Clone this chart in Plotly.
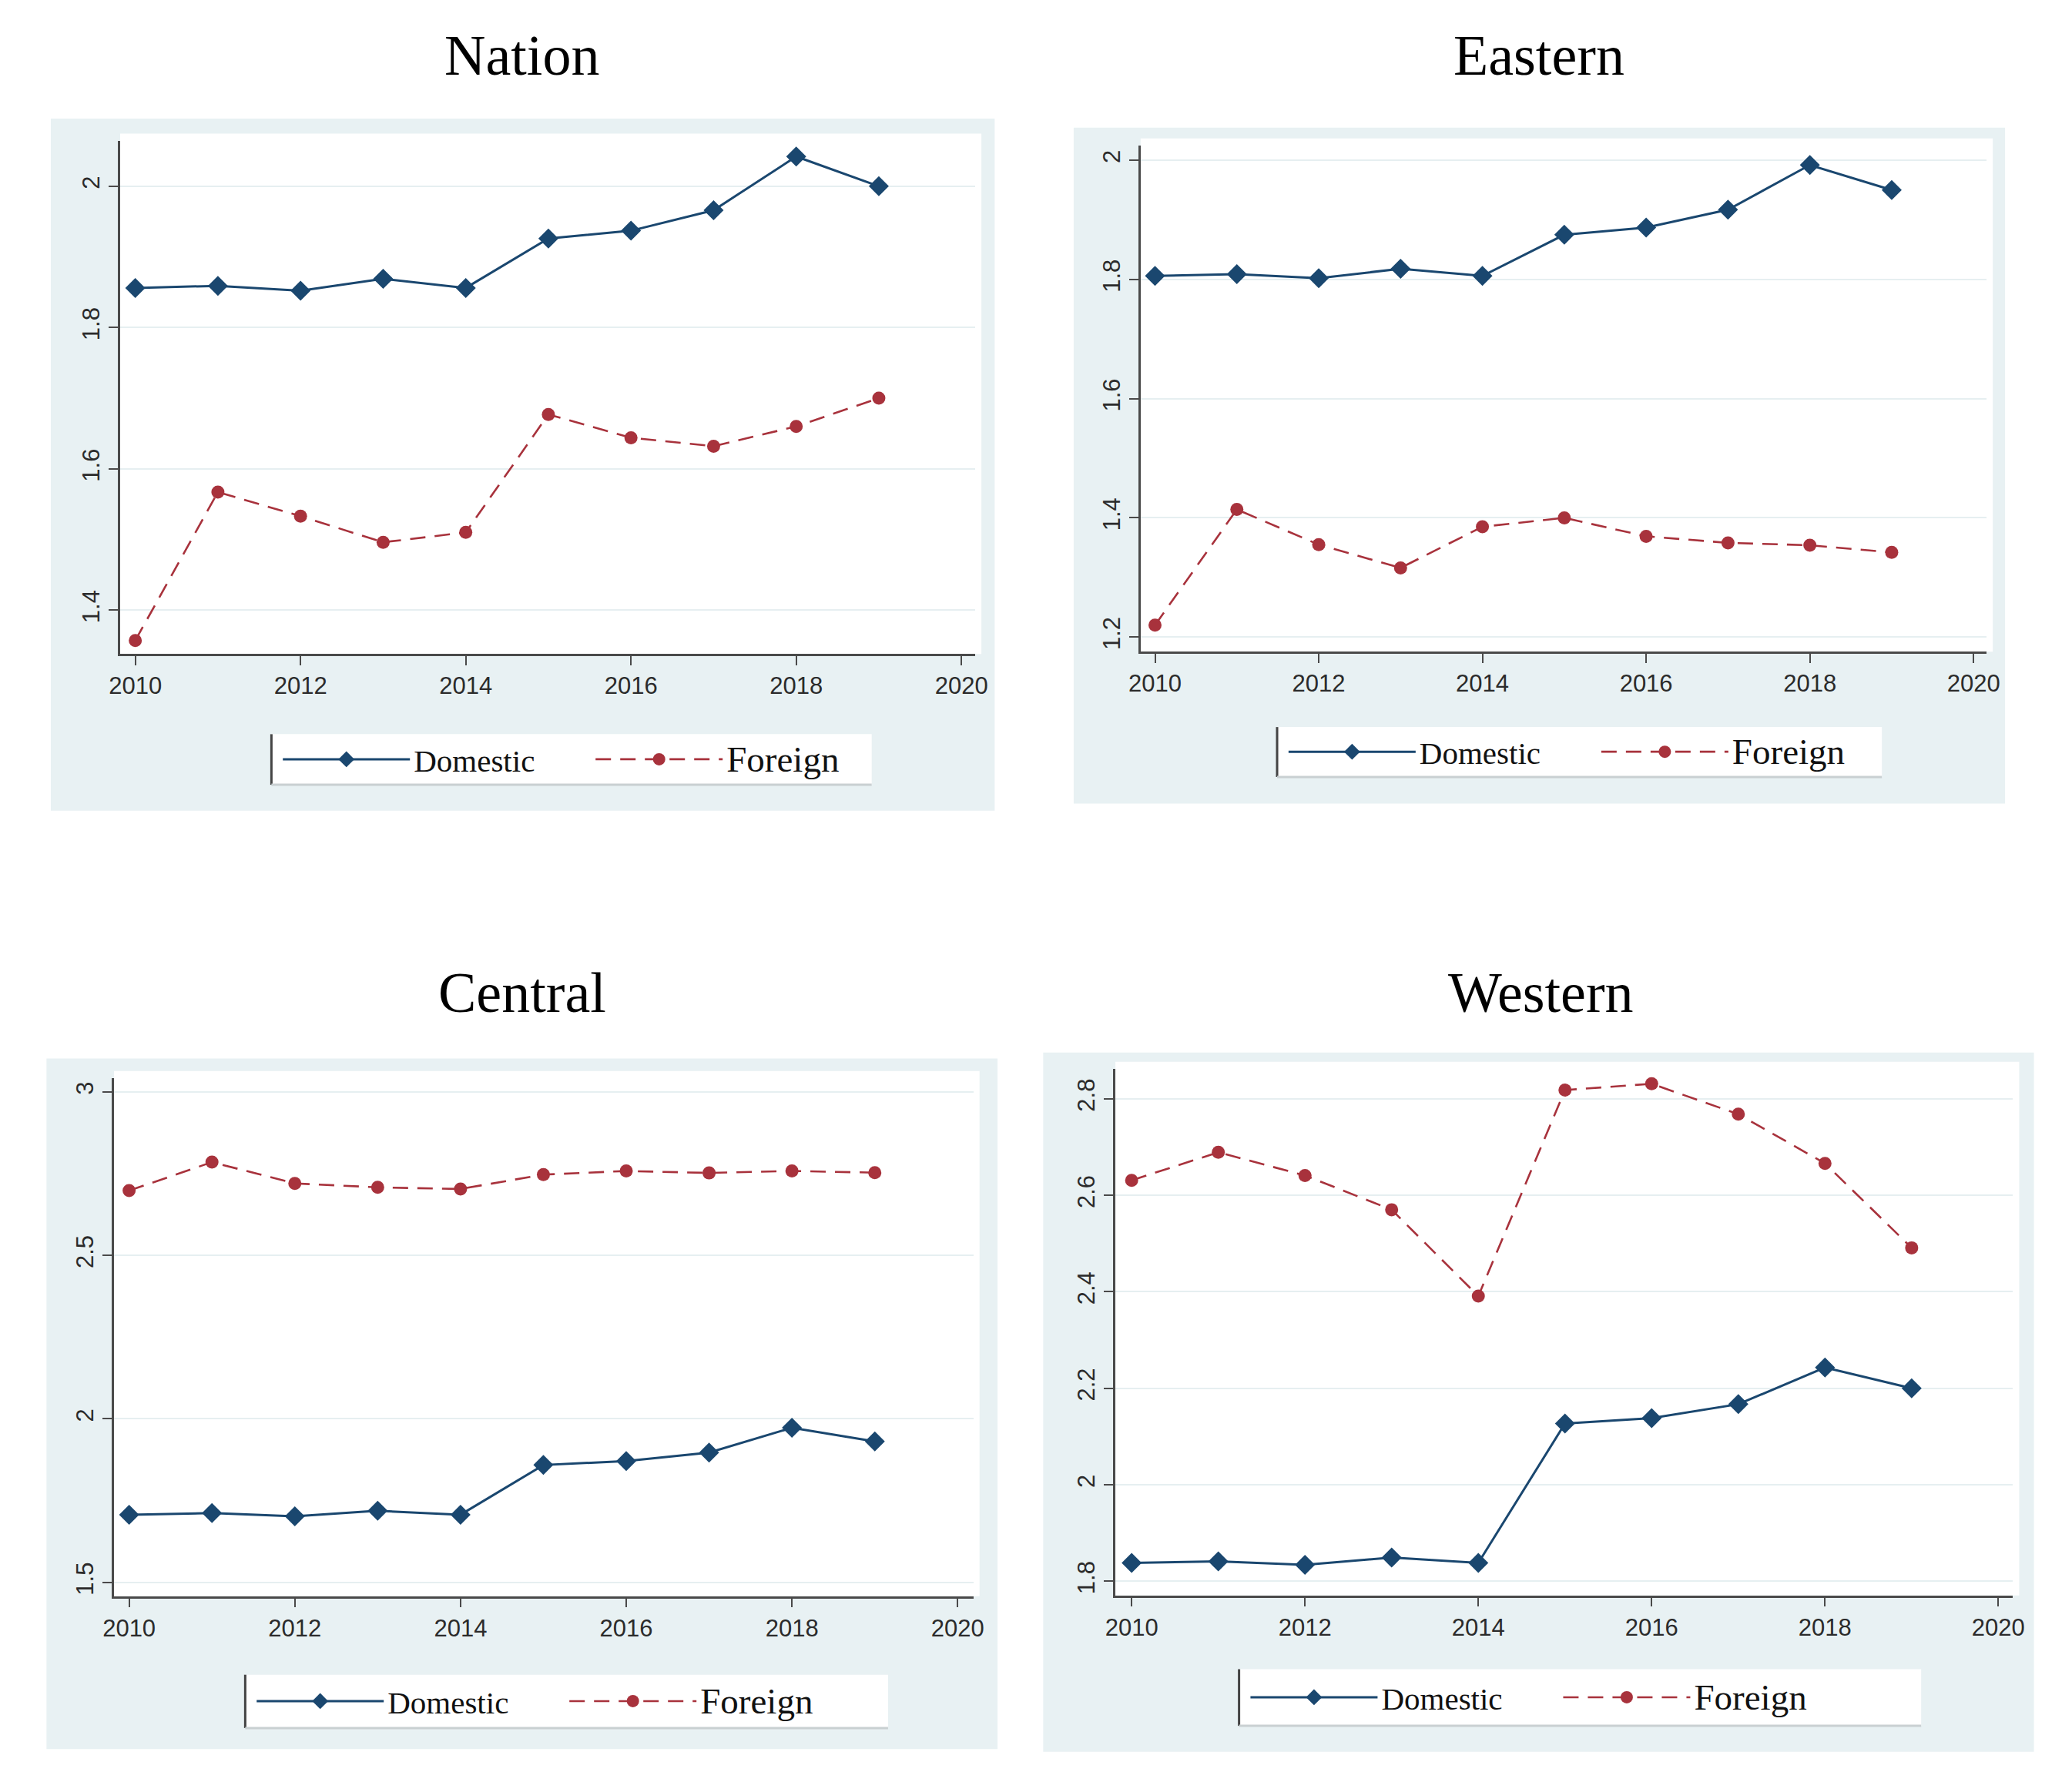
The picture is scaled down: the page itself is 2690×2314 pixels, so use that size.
import plotly.graph_objects as go

years = [2010, 2011, 2012, 2013, 2014, 2015, 2016, 2017, 2018, 2019]

nation_domestic = [1.856, 1.859, 1.852, 1.869, 1.856, 1.926, 1.937, 1.966, 2.042, 2.000]
nation_foreign = [1.357, 1.567, 1.533, 1.496, 1.510, 1.677, 1.644, 1.632, 1.660, 1.700]
eastern_domestic = [1.806, 1.809, 1.802, 1.818, 1.806, 1.875, 1.887, 1.917, 1.992, 1.950]
eastern_foreign = [1.220, 1.414, 1.355, 1.316, 1.385, 1.400, 1.369, 1.358, 1.354, 1.342]
central_domestic = [1.707, 1.712, 1.702, 1.719, 1.707, 1.859, 1.871, 1.897, 1.973, 1.931]
central_foreign = [2.698, 2.785, 2.720, 2.708, 2.703, 2.747, 2.758, 2.752, 2.758, 2.753]
western_domestic = [1.838, 1.841, 1.834, 1.849, 1.838, 2.127, 2.138, 2.167, 2.243, 2.200]
western_foreign = [2.631, 2.689, 2.641, 2.570, 2.391, 2.818, 2.831, 2.768, 2.666, 2.491]

panel_titles = ["Nation", "Eastern", "Central", "Western"]
x_ticks = [2010, 2012, 2014, 2016, 2018, 2020]
nation_yticks = [1.4, 1.6, 1.8, 2]
eastern_yticks = [1.2, 1.4, 1.6, 1.8, 2]
central_yticks = [1.5, 2, 2.5, 3]
western_yticks = [1.8, 2, 2.2, 2.4, 2.6, 2.8]
series_names = ["Domestic", "Foreign"]

NAVY = "#1a476f"
MAROON = "#a8323c"
BG = "#e8f1f3"
GRID = "#e6eff1"
AXIS = "#4a4a4a"

panels = [
    dict(dom=nation_domestic, fo=nation_foreign, yt=nation_yticks,
         xd=[0.0527, 0.4705], yd=[0.633, 0.921], xr=[2009.817, 2020.167], yr=[1.3379, 2.0643],
         bg=[0.0188, 0.480, 0.545, 0.9334], title=(0.249, 0.969),
         leg=[0.1266, 0.4199, 0.5596, 0.588]),
    dict(dom=eastern_domestic, fo=eastern_foreign, yt=eastern_yticks,
         xd=[0.5513, 0.9647], yd=[0.6343, 0.9183], xr=[2009.824, 2020.16], yr=[1.1754, 2.0246],
         bg=[0.5186, 0.9737, 0.549, 0.9284], title=(0.746, 0.969),
         leg=[0.618, 0.9135, 0.564, 0.592]),
    dict(dom=central_domestic, fo=central_foreign, yt=central_yticks,
         xd=[0.0497, 0.4696], yd=[0.1043, 0.395], xr=[2009.818, 2020.19], yr=[1.458, 3.042],
         bg=[0.0167, 0.4814, 0.0185, 0.406], title=(0.249, 0.4428),
         leg=[0.1138, 0.4279, 0.0303, 0.0602]),
    dict(dom=western_domestic, fo=western_foreign, yt=western_yticks,
         xd=[0.5390, 0.9776], yd=[0.1047, 0.4002], xr=[2009.813, 2020.17], yr=[1.7706, 2.862],
         bg=[0.5037, 0.9878, 0.017, 0.4094], title=(0.7468, 0.4428),
         leg=[0.5994, 0.9327, 0.0315, 0.0633]),
]

fig = go.Figure()
shapes = []
annotations = []
layout = dict()

for i, p in enumerate(panels):
    sfx = "" if i == 0 else str(i + 1)
    legname = "legend" if i == 0 else f"legend{i + 1}"
    fig.add_trace(go.Scatter(
        x=years, y=p["dom"], mode="lines+markers", name=series_names[0],
        xaxis="x" + sfx, yaxis="y" + sfx, legend=legname,
        line=dict(color=NAVY, width=3),
        marker=dict(symbol="diamond", size=20, color=NAVY)))
    fig.add_trace(go.Scatter(
        x=years, y=p["fo"], mode="lines+markers",
        name="<span style='font-size:47px'>" + series_names[1] + "</span>",
        xaxis="x" + sfx, yaxis="y" + sfx, legend=legname,
        line=dict(color=MAROON, width=2.6, dash="20px,12px"),
        marker=dict(symbol="circle", size=17, color=MAROON)))

    layout["xaxis" + sfx] = dict(
        domain=p["xd"], range=p["xr"], anchor="y" + sfx,
        tickvals=x_ticks, ticktext=[str(t) for t in x_ticks],
        ticks="outside", ticklen=12, tickwidth=2, tickcolor=AXIS,
        showline=True, linecolor=AXIS, linewidth=2.5,
        showgrid=False, zeroline=False,
        tickfont=dict(family="Liberation Sans", size=31, color="#2b2b2b"))
    layout["yaxis" + sfx] = dict(
        domain=p["yd"], range=p["yr"], anchor="x" + sfx,
        tickvals=p["yt"], ticktext=[f"{t:g}" for t in p["yt"]],
        ticks="outside", ticklen=12, tickwidth=2, tickcolor=AXIS,
        showline=True, linecolor=AXIS, linewidth=2.5,
        showgrid=True, gridcolor=GRID, gridwidth=2, zeroline=False,
        tickangle=-90,
        tickfont=dict(family="Liberation Sans", size=31, color="#2b2b2b"))

    x0, x1, y0, y1 = p["bg"]
    shapes.append(dict(type="rect", xref="paper", yref="paper", x0=x0, x1=x1, y0=y0, y1=y1,
                       fillcolor=BG, line=dict(width=0), layer="below"))
    shapes.append(dict(type="rect", xref="paper", yref="paper",
                       x0=p["xd"][0], x1=p["xd"][1] + 0.003, y0=p["yd"][0], y1=p["yd"][1] + 0.004,
                       fillcolor="white", line=dict(width=0), layer="below"))
    lx0, lx1, ly0, ly1 = p["leg"]
    shapes.append(dict(type="rect", xref="paper", yref="paper", x0=lx0, x1=lx1, y0=ly0, y1=ly1,
                       fillcolor="white", line=dict(width=0), layer="below"))
    shapes.append(dict(type="line", xref="paper", yref="paper", x0=lx0, x1=lx0, y0=ly0, y1=ly1,
                       line=dict(color="#444", width=3)))
    shapes.append(dict(type="line", xref="paper", yref="paper", x0=lx0, x1=lx1, y0=ly0, y1=ly0,
                       line=dict(color="#c9d0d2", width=3)))

    layout[legname] = dict(
        x=lx0 + 0.0037, y=(ly0 + ly1) / 2, xanchor="left", yanchor="middle",
        orientation="h", bgcolor="rgba(0,0,0,0)", borderwidth=0,
        entrywidth=226, entrywidthmode="pixels", itemwidth=165,
        font=dict(family="Liberation Serif", size=41, color="#111"))

    tx, ty = p["title"]
    annotations.append(dict(text=panel_titles[i], x=tx, y=ty, xref="paper", yref="paper",
                            xanchor="center", yanchor="middle", showarrow=False,
                            font=dict(family="Liberation Serif", size=74, color="black")))

fig.update_layout(
    width=2690, height=2314,
    margin=dict(l=0, r=0, t=0, b=0),
    paper_bgcolor="white", plot_bgcolor="white",
    shapes=shapes, annotations=annotations, showlegend=True,
    **layout)

fig.write_html("out.html", config={"displayModeBar": False},
               post_script="document.body.style.margin='0px';document.body.style.overflow='hidden';")
